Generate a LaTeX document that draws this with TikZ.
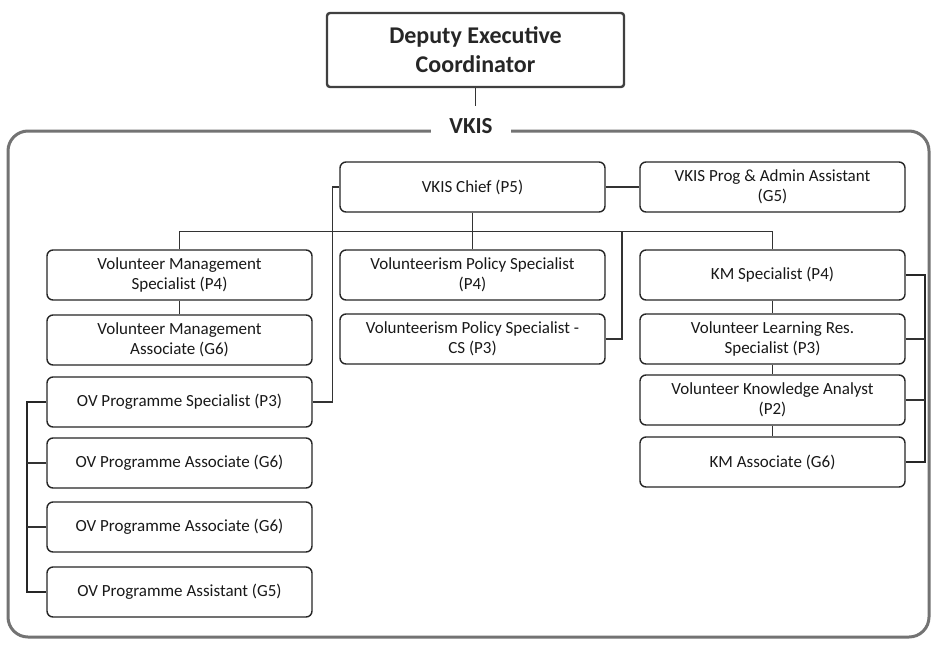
\documentclass[tikz,border=0pt]{standalone}
\usepackage{fontspec}
\setmainfont{Carlito}
\begin{document}
\begin{tikzpicture}[x=1pt,y=-1pt,
  box/.style={draw=black!85, line width=1.4pt, rounded corners=6pt, minimum width=265pt, minimum height=50pt, align=center, font=\fontsize{17}{20.5}\selectfont, text=black!90, inner sep=2pt},
  deputy/.style={draw=black!75, line width=2.4pt, rounded corners=3pt, minimum width=297pt, minimum height=74pt, align=center, font=\fontsize{24}{29}\selectfont\bfseries, text=black!85},
  container/.style={draw=black!55, line width=3pt, rounded corners=20pt},
  vkislabel/.style={fill=white, minimum width=80pt, inner sep=2pt, font=\fontsize{23}{27}\selectfont\bfseries, text=black!85},
  conn/.style={draw=black!80, line width=1.2pt},
  thickconn/.style={draw=black!85, line width=2.2pt}]
\useasboundingbox (0,0) rectangle (933,648);
\fill[white] (0,0) rectangle (933,648);

% top
\node[deputy] (dep) at (475.5,50) {Deputy Executive\\Coordinator};
\draw[container] (8,131) rectangle (929,637);
\node[vkislabel] (vkis) at (471,126) {VKIS};
\coordinate (depend) at (475.5,106);
\draw[conn] (dep.south) -- (depend);

% chief row
\node[box] (chief) at (472.5,187) {VKIS Chief (P5)};
\node[box] (prog) at (772.5,187) {VKIS Prog \& Admin Assistant\\(G5)};

% left column
\node[box] (vms) at (179.5,275) {Volunteer Management\\Specialist (P4)};
\node[box] (vma) at (179.5,340) {Volunteer Management\\Associate (G6)};
\node[box] (ovps) at (179.5,402) {OV Programme Specialist (P3)};
\node[box] (ova1) at (179.5,463) {OV Programme Associate (G6)};
\node[box] (ova2) at (179.5,527) {OV Programme Associate (G6)};
\node[box] (ovast) at (179.5,592) {OV Programme Assistant (G5)};

% middle column
\node[box] (vps) at (472.5,275) {Volunteerism Policy Specialist\\(P4)};
\node[box] (vpscs) at (472.5,339) {Volunteerism Policy Specialist -\\CS (P3)};

% right column
\node[box] (kms) at (772.5,275) {KM Specialist (P4)};
\node[box] (vlrs) at (772.5,339) {Volunteer Learning Res.\\Specialist (P3)};
\node[box] (vka) at (772.5,400) {Volunteer Knowledge Analyst\\(P2)};
\node[box] (kma) at (772.5,462) {KM Associate (G6)};

% connectors
\coordinate (busR) at (622,232);
\draw[conn] (chief.east) -- (prog.west);
\draw[conn] (chief.south) -- (vps.north);
\draw[conn] (vms.north) -- ++(0,-18) -| (kms.north);
\draw[conn] (vpscs.east) -| (busR);
\draw[conn] (chief.west) -- ++(-7,0) |- (ovps.east);
\draw[conn] (vms.south) -- (vma.north);
\draw[conn] (kms.south) -- (vlrs.north);
\draw[conn] (vlrs.south) -- (vka.north);
\draw[conn] (vka.south) -- (kma.north);

\draw[thickconn] (kms.east) -- ++(19,0) |- (kma.east);
\draw[conn] (vlrs.east) -- ++(19,0);
\draw[conn] (vka.east) -- ++(19,0);

\draw[thickconn] (ovps.west) -- ++(-19,0) |- (ovast.west);
\draw[conn] (ova1.west) -- ++(-19,0);
\draw[conn] (ova2.west) -- ++(-19,0);
\end{tikzpicture}
\end{document}
